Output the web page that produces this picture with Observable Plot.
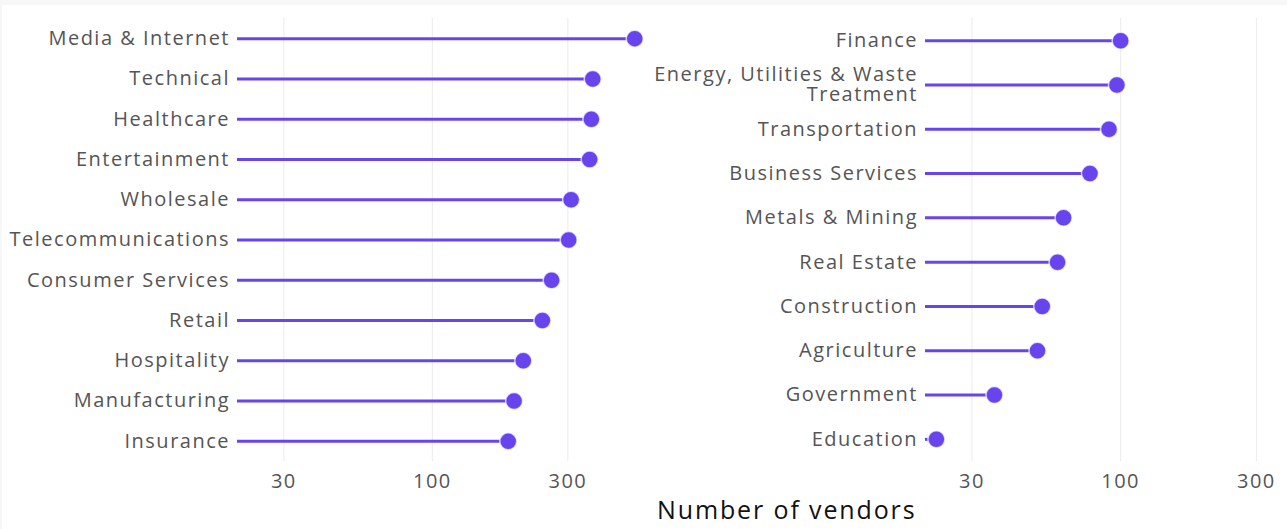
<!DOCTYPE html>
<html>
<head>
<meta charset="utf-8">
<script src="https://cdn.jsdelivr.net/npm/d3@7"></script>
<script src="https://cdn.jsdelivr.net/npm/@observablehq/plot@0.6"></script>
<style>
  html, body { margin: 0; padding: 0; background: #f7f7f7; }
  #wrap { position: relative; width: 1287px; height: 529px; background: #f7f7f7; overflow: hidden; font-family: "Open Sans", sans-serif; }
  #sheet { position: absolute; left: 2px; top: 5px; right: 0; bottom: 0; background: #fff; }
  #left, #right { position: absolute; top: 0; }
  #left { left: 0; }
  #right { left: 645px; }
  #xtitle { position: absolute; left: 657px; top: 497px; font-size: 25px; color: #111; white-space: nowrap; line-height: 1; letter-spacing: 0.075em; }
  svg text { letter-spacing: 0.075em; }
</style>
</head>
<body>
<div id="wrap">
  <div id="sheet"></div>
  <div id="left"></div>
  <div id="right"></div>
  <div id="xtitle">Number of vendors</div>
</div>
<script>
// Left panel
const leftCategories = ["Media & Internet", "Technical", "Healthcare", "Entertainment", "Wholesale",
  "Telecommunications", "Consumer Services", "Retail", "Hospitality", "Manufacturing", "Insurance"];
const leftValues = [516, 367, 363, 358, 308, 302, 263, 244, 209, 194, 185];

// Right panel
const rightCategories = ["Finance", "Energy, Utilities & Waste\nTreatment", "Transportation", "Business Services",
  "Metals & Mining", "Real Estate", "Construction", "Agriculture", "Government", "Education"];
const rightValues = [100, 97, 91, 78, 63, 60, 53, 51, 36, 22.5];

const xTicks = [30, 100, 300];
const xMin = 20.6;
const leftXMax = 563;
const rightXMax = 386;

const color = "#6844EE";

function panel(cats, vals, opts) {
  const data = cats.map((c, i) => ({cat: c, value: vals[i]}));
  return Plot.plot({
    width: opts.width,
    height: 529,
    marginTop: 18,
    marginBottom: 68,
    marginLeft: opts.marginLeft,
    marginRight: 0,
    style: {background: "transparent", fontFamily: "'Open Sans', sans-serif", overflow: "visible"},
    x: {type: "log", domain: [xMin, opts.xMax]},
    y: {type: "point", domain: cats, padding: 0.5, round: false},
    marks: [
      Plot.gridX(xTicks, {stroke: "#ebebeb", strokeOpacity: 1, strokeWidth: 1}),
      Plot.axisX({ticks: xTicks, tickSize: 0, tickPadding: 12, tickFormat: d => String(d), fontSize: 20, fill: "#555", label: null}),
      Plot.axisY({tickSize: 0, tickPadding: 7.5, fontSize: 20, fill: "#555", label: null, lineHeight: 1}),
      Plot.ruleY(data, {y: "cat", x1: xMin, x2: "value", stroke: color, strokeWidth: 3}),
      Plot.dot(data, {x: "value", y: "cat", r: 8.5, fill: color, stroke: "#fff", strokeWidth: 1.5, strokeOpacity: 0.7})
    ]
  });
}

document.getElementById("left").appendChild(panel(leftCategories, leftValues, {width: 645, marginLeft: 237, xMax: leftXMax}));
document.getElementById("right").appendChild(panel(rightCategories, rightValues, {width: 642, marginLeft: 280, xMax: rightXMax}));
</script>
</body>
</html>
